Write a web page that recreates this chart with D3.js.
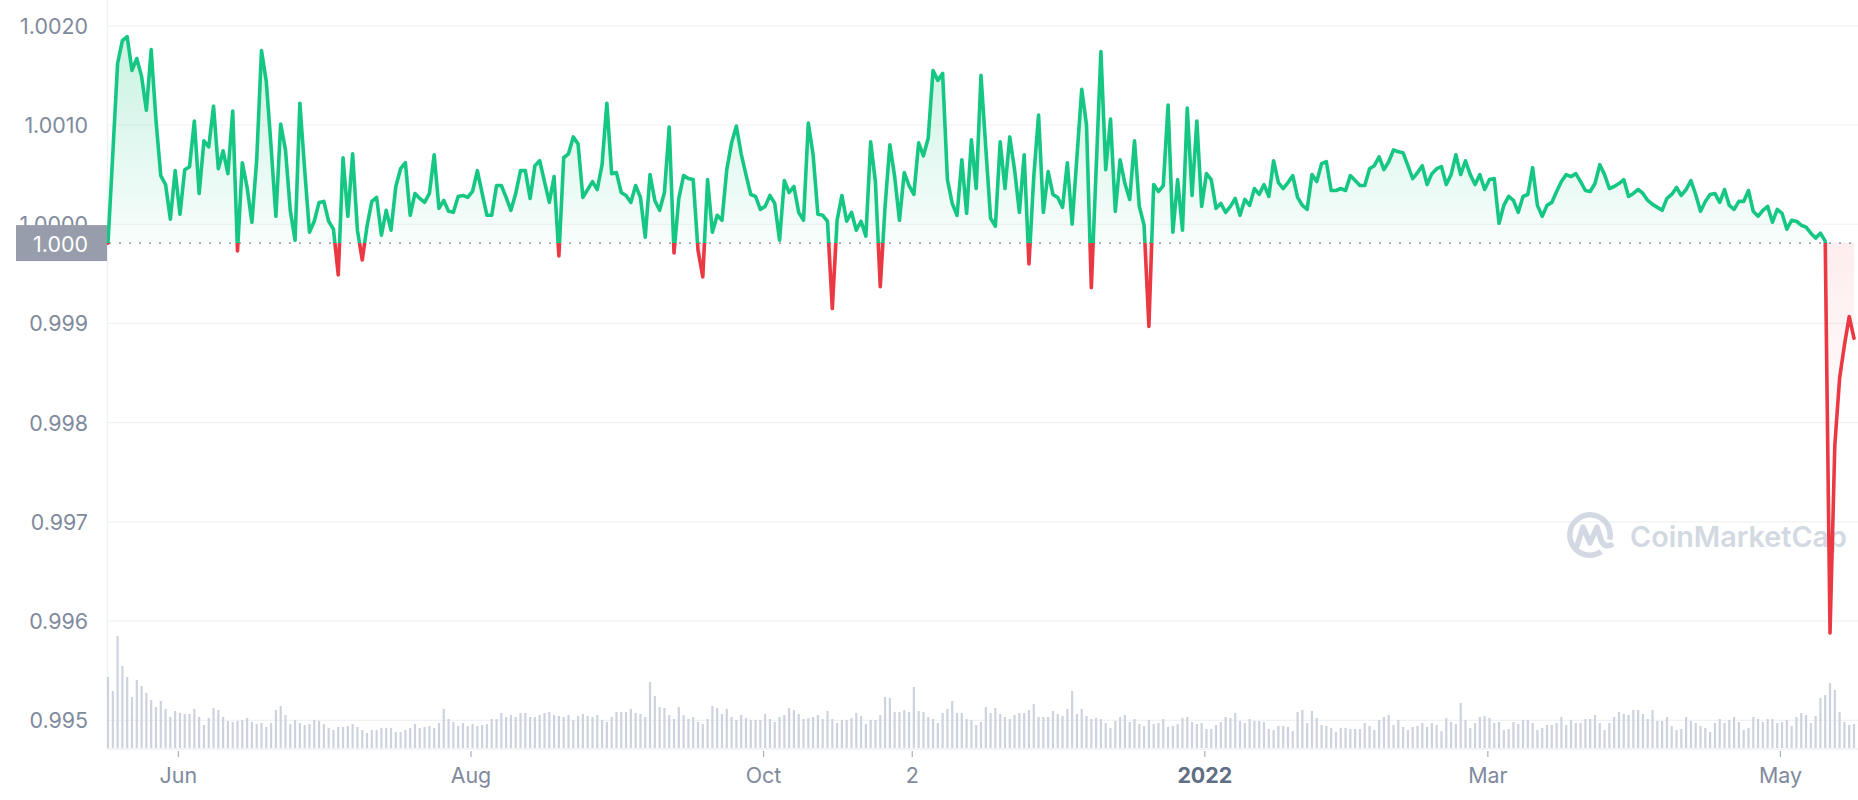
<!DOCTYPE html>
<html>
<head>
<meta charset="utf-8">
<script src="https://cdn.jsdelivr.net/npm/d3@7"></script>
<style>
  html, body { margin: 0; padding: 0; background: #ffffff; }
  svg { display: block; font-family: Inter, "Noto Sans", "DejaVu Sans", sans-serif; }
</style>
</head>
<body>
<svg id="chart" width="1858" height="800"></svg>
<script>
// ---------------- DATA ----------------
const startUTC = Date.UTC(2021, 4, 17, 8);   // first daily point
const dayMs = 864e5;

const prices = [
  0.99981, 1.00071, 1.00162, 1.00185, 1.00189, 1.00155, 1.00167, 1.00149, 1.00115, 1.00176,
  1.00105, 1.00049, 1.00040, 1.00005, 1.00054, 1.00010, 1.00055, 1.00058, 1.00104, 1.00031,
  1.00084, 1.00078, 1.00119, 1.00056, 1.00074, 1.00051, 1.00114, 0.99973, 1.00062, 1.00037,
  1.00002, 1.00065, 1.00175, 1.00144, 1.00078, 1.00008, 1.00101, 1.00075, 1.00014, 0.99984,
  1.00122, 1.00055, 0.99992, 1.00003, 1.00022, 1.00023, 1.00003, 0.99995, 0.99949, 1.00067,
  1.00008, 1.00071, 0.99994, 0.99964, 0.99998, 1.00023, 1.00027, 0.99989, 1.00014, 0.99994,
  1.00038,
  1.00056, 1.00062, 1.00009, 1.00031, 1.00026, 1.00022, 1.00031, 1.00070, 1.00016,
  1.00024, 1.00013, 1.00012, 1.00028, 1.00029, 1.00027, 1.00033, 1.00054, 1.00031, 1.00009,
  1.00009, 1.00039, 1.00039, 1.00027, 1.00014, 1.00031, 1.00054, 1.00054, 1.00026, 1.00059,
  1.00064, 1.00043, 1.00022, 1.00048, 0.99968, 1.00067, 1.00071, 1.00088, 1.00081, 1.00027,
  1.00035, 1.00043, 1.00035, 1.00060, 1.00122, 1.00051, 1.00052, 1.00032, 1.00029, 1.00022,
  1.00039, 1.00027, 0.99987, 1.00050, 1.00024, 1.00014, 1.00032, 1.00098, 0.99971, 1.00026,
  1.00049, 1.00046, 1.00045, 0.99974,
  0.99947, 1.00045, 0.99992, 1.00009, 1.00004, 1.00055,
  1.00082, 1.00099, 1.00071, 1.00050, 1.00030, 1.00028, 1.00015, 1.00018, 1.00029, 1.00021,
  0.99984, 1.00044, 1.00032, 1.00038, 1.00012, 1.00004, 1.00102, 1.00070, 1.00010, 1.00009,
  1.00003, 0.99915, 1.00004, 1.00029, 1.00003, 1.00012, 0.99994, 1.00003, 0.99988, 1.00083,
  1.00042, 0.99937, 1.00018, 1.00080, 1.00048, 1.00004, 1.00052, 1.00039, 1.00030, 1.00082,
  1.00069, 1.00087, 1.00155, 1.00145, 1.00152, 1.00045, 1.00021, 1.00009, 1.00065, 1.00011,
  1.00085, 1.00036, 1.00150, 1.00077, 1.00006, 0.99998, 1.00083,
  1.00036, 1.00088, 1.00055,
  1.00012, 1.00070, 0.99960, 1.00048, 1.00110, 1.00012, 1.00053, 1.00030, 1.00027, 1.00017,
  1.00062, 1.00000, 1.00068, 1.00136, 1.00100, 0.99936, 1.00055, 1.00174, 1.00055, 1.00106,
  1.00013, 1.00065, 1.00041, 1.00025, 1.00084, 1.00018, 0.99999, 0.99897, 1.00040, 1.00033,
  1.00039, 1.00120, 0.99992, 1.00045, 0.99994, 1.00117, 1.00029, 1.00104, 1.00018, 1.00051,
  1.00045, 1.00016, 1.00021, 1.00012, 1.00018, 1.00026, 1.00009, 1.00025, 1.00019, 1.00036,
  1.00030, 1.00040, 1.00028, 1.00064, 1.00042, 1.00036, 1.00042, 1.00049, 1.00027,
  1.00019,
  1.00015, 1.00050, 1.00043, 1.00061, 1.00063, 1.00034, 1.00034, 1.00036, 1.00034, 1.00049,
  1.00044, 1.00039, 1.00039, 1.00056, 1.00059, 1.00068, 1.00055, 1.00063, 1.00075, 1.00073,
  1.00072, 1.00059, 1.00046, 1.00052, 1.00059, 1.00040, 1.00051, 1.00056, 1.00058, 1.00040,
  1.00050, 1.00070, 1.00050, 1.00064, 1.00050, 1.00040, 1.00050, 1.00035, 1.00045, 1.00046,
  1.00001, 1.00019, 1.00028, 1.00024, 1.00012, 1.00028, 1.00030, 1.00057, 1.00019, 1.00008,
  1.00019, 1.00022, 1.00033, 1.00043, 1.00050, 1.00048, 1.00051, 1.00043, 1.00034, 1.00033,
  1.00041, 1.00060,
  1.00050, 1.00036, 1.00038, 1.00041, 1.00045, 1.00028, 1.00031, 1.00035,
  1.00031, 1.00024, 1.00020, 1.00017, 1.00014, 1.00026, 1.00030, 1.00037, 1.00029, 1.00035,
  1.00044, 1.00030, 1.00013, 1.00023, 1.00030, 1.00031, 1.00022, 1.00035, 1.00019, 1.00015,
  1.00023, 1.00023, 1.00034, 1.00013, 1.00008, 1.00014, 1.00018, 1.00002, 1.00015, 1.00011,
  0.99995, 1.00004, 1.00003, 0.99999, 0.99997, 0.99991, 0.99986, 0.99991, 0.99983, 0.99588,
  0.99777, 0.99845, 0.99878, 0.99907, 0.99885
];

// daily volume (billions USD, approximate)
const volumes = [
  71, 57, 112, 82, 71, 51, 68, 62, 55, 48,
  41, 47, 39, 31, 37, 35, 34, 34, 39, 31,
  23, 30, 40, 38, 31, 27, 26, 27, 28, 30,
  26, 24, 25, 21, 25, 38, 42, 33, 24, 28,
  25, 23, 24, 28, 27, 24, 20, 18, 21, 21,
  22, 24, 21, 18, 15, 18, 18, 20, 20, 20,
  16, 16, 18, 20, 24, 20, 21, 22, 20, 25,
  39, 29, 26, 22, 25, 22, 24, 22, 23, 24,
  29, 29, 35, 31, 33, 31, 35, 35, 31, 31,
  33, 35, 36, 33, 32, 31, 33, 28, 32, 34,
  32, 31, 33, 28, 26, 31, 36, 36, 36, 39,
  35, 34, 31, 66, 52, 41, 40, 33, 29, 41,
  33, 29, 31, 26, 24, 29, 42, 40, 34, 39,
  31, 28, 33, 30, 28, 28, 28, 34, 29, 26,
  31, 33, 40, 38, 34, 29, 30, 31, 33, 29,
  37, 29, 25, 28, 28, 30, 35, 32, 24, 28,
  28, 33, 51, 50, 36, 36, 38, 36, 61, 37,
  36, 31, 29, 25, 35, 39, 47, 35, 35, 29,
  28, 23,
  26, 41, 35, 40, 34, 31, 29, 33,
  35, 35, 38, 44, 31, 31, 31, 37, 34, 32,
  39, 57, 34, 39, 32, 29, 30, 29, 25, 20,
  27, 31, 33, 26, 29, 24, 22, 28, 24, 25,
  29, 21, 22, 24, 30, 31, 26, 24, 25, 19,
  19, 23, 26, 31, 30, 35, 27, 25, 29, 27,
  27, 26, 19, 18, 22, 22, 21, 17, 36, 38,
  25, 37, 30, 23, 22, 20, 16, 20, 20, 19,
  19, 19, 25, 22, 18, 28, 31, 33, 23, 28,
  21, 18, 21, 22, 25, 21, 25, 23, 17, 30,
  26, 24, 45, 28, 20, 25, 31, 32, 30, 25,
  26, 18, 19, 26, 24, 28, 28, 25, 18, 20,
  23, 23, 25, 31, 23, 28, 25, 25, 29, 29,
  33, 25, 18, 25, 31, 36, 34, 33, 38, 38,
  34, 29, 38, 27, 27, 31, 22, 18, 19, 31,
  27, 25, 22, 20, 16, 25, 29, 25, 28, 31,
  26, 18, 20, 31, 29, 26, 29, 29, 25, 26,
  28, 22, 31, 35, 33, 25, 32, 50, 53, 65,
  58, 36, 26, 23, 24
];

const openPrice = 0.99981;
const openLabel = "1.000";

const yTickValues = [1.0020, 1.0010, 1.0000, 0.999, 0.998, 0.997, 0.996, 0.995];
const yTickLabels = ["1.0020", "1.0010", "1.0000", "0.999", "0.998", "0.997", "0.996", "0.995"];

const xTickDates = [
  Date.UTC(2021, 5, 1), Date.UTC(2021, 7, 1), Date.UTC(2021, 9, 1), Date.UTC(2021, 10, 1),
  Date.UTC(2022, 0, 1), Date.UTC(2022, 2, 1), Date.UTC(2022, 4, 1)
];
const xTickLabels = ["Jun", "Aug", "Oct", "2", "2022", "Mar", "May"];
const boldTickLabels = ["2022"];

const watermarkText = "CoinMarketCap";

// ---------------- CHART ----------------
const GREEN = "#16c784", RED = "#ea3943";
const svg = d3.select("#chart");
const plotL = 107, plotR = 1858, axisY = 749;

const points = prices.map((p, i) => ({ date: new Date(startUTC + i * dayMs), price: p, vol: volumes[i] }));

const x = d3.scaleUtc()
  .domain([new Date(startUTC), new Date(startUTC + 364 * dayMs)])
  .range([108, 1854]);
const y = d3.scaleLinear().domain([0.995, 1.002]).range([720.3, 25.8]);
const yVol = d3.scaleLinear().domain([0, 128]).range([748, 620]);
const baseY = y(openPrice);

const defs = svg.append("defs");
const gG = defs.append("linearGradient").attr("id", "gGreen")
  .attr("gradientUnits", "userSpaceOnUse").attr("x1", 0).attr("x2", 0)
  .attr("y1", y(1.002)).attr("y2", baseY);
gG.append("stop").attr("offset", 0).attr("stop-color", GREEN).attr("stop-opacity", 0.24);
gG.append("stop").attr("offset", 1).attr("stop-color", GREEN).attr("stop-opacity", 0.03);
const gR = defs.append("linearGradient").attr("id", "gRed")
  .attr("gradientUnits", "userSpaceOnUse").attr("x1", 0).attr("x2", 0)
  .attr("y1", baseY).attr("y2", y(0.9975));
gR.append("stop").attr("offset", 0).attr("stop-color", RED).attr("stop-opacity", 0.09);
gR.append("stop").attr("offset", 1).attr("stop-color", RED).attr("stop-opacity", 0);

defs.append("clipPath").attr("id", "clipAbove").append("rect")
  .attr("x", plotL).attr("y", 0).attr("width", plotR - plotL).attr("height", baseY);
defs.append("clipPath").attr("id", "clipBelow").append("rect")
  .attr("x", plotL).attr("y", baseY).attr("width", plotR - plotL).attr("height", 800 - baseY);

// grid lines
svg.append("g").selectAll("line").data(yTickValues).join("line")
  .attr("x1", plotL).attr("x2", plotR)
  .attr("y1", d => y(d)).attr("y2", d => y(d))
  .attr("stroke", "#eff2f5").attr("stroke-width", 1.2);

// axis lines
svg.append("line").attr("x1", plotL + 0.5).attr("x2", plotL + 0.5).attr("y1", 0).attr("y2", axisY)
  .attr("stroke", "#eff2f5").attr("stroke-width", 1.5);
svg.append("line").attr("x1", plotL).attr("x2", plotR).attr("y1", axisY).attr("y2", axisY)
  .attr("stroke", "#eceff3").attr("stroke-width", 1.5);

// volume bars
svg.append("g").selectAll("rect").data(points).join("rect")
  .attr("x", d => x(d.date) - 1.1)
  .attr("width", 2.2)
  .attr("y", d => yVol(d.vol))
  .attr("height", d => yVol(0) - yVol(d.vol))
  .attr("fill", "#cdd3de");

// watermark
const wm = svg.append("g").attr("fill", "none").attr("stroke", "#d3d9e2");
wm.append("path")
  .attr("d", d3.arc()({ innerRadius: 17.5, outerRadius: 23, startAngle: 2.55, endAngle: 2.55 + 2 * Math.PI - 0.75 }))
  .attr("transform", "translate(1590,535)").attr("fill", "#d3d9e2").attr("stroke", "none");
wm.append("path")
  .attr("d", "M1577,546 L1583,527 L1590,543 L1597,527 L1601,540 Q1604,548 1611,545")
  .attr("stroke-width", 5.5).attr("stroke-linejoin", "round").attr("stroke-linecap", "round");
const wmText = svg.append("text").attr("x", 1630).attr("y", 547)
  .attr("fill", "#d3d9e2").attr("font-weight", 600).attr("font-size", 30)
  .text(watermarkText);
{
  const len = wmText.node().getComputedTextLength();
  wmText.attr("font-size", 30 * 217 / len);
}

// areas
const area = d3.area().x(d => x(d.date)).y0(baseY).y1(d => y(d.price));
svg.append("path").datum(points).attr("d", area).attr("fill", "url(#gGreen)").attr("clip-path", "url(#clipAbove)");
svg.append("path").datum(points).attr("d", area).attr("fill", "url(#gRed)").attr("clip-path", "url(#clipBelow)");

// dotted open line
svg.append("line").attr("x1", plotL + 2).attr("x2", plotR).attr("y1", baseY).attr("y2", baseY)
  .attr("stroke", "#9ea4b0").attr("stroke-width", 1.6).attr("stroke-dasharray", "2,8");

// price line
const line = d3.line().x(d => x(d.date)).y(d => y(d.price));
svg.append("path").datum(points).attr("d", line).attr("fill", "none").attr("stroke", GREEN)
  .attr("stroke-width", 3.6).attr("stroke-linejoin", "round").attr("stroke-linecap", "round")
  .attr("clip-path", "url(#clipAbove)");
svg.append("path").datum(points).attr("d", line).attr("fill", "none").attr("stroke", RED)
  .attr("stroke-width", 3.6).attr("stroke-linejoin", "round").attr("stroke-linecap", "round")
  .attr("clip-path", "url(#clipBelow)");

// y labels
const yLab = svg.append("g").selectAll("text").data(yTickValues).join("text")
  .attr("x", 88).attr("y", d => y(d)).attr("text-anchor", "end").attr("dominant-baseline", "central")
  .attr("fill", "#808a9d").attr("font-size", 20)
  .text((d, i) => yTickLabels[i]);
// calibrate font size so "1.0020" spans ~68px
let fs = 20;
{
  const w = yLab.nodes()[0].getComputedTextLength();
  fs = 20 * 68 / w;
  yLab.attr("font-size", fs);
}

// open price badge
svg.append("rect").attr("x", 16).attr("y", baseY - 18).attr("width", plotL - 16).attr("height", 36)
  .attr("fill", "#979dab");
svg.append("text").attr("x", 88).attr("y", baseY + 1).attr("text-anchor", "end")
  .attr("dominant-baseline", "central").attr("fill", "#ffffff").attr("font-size", fs)
  .text(openLabel);

// x ticks and labels
const xg = svg.append("g");
xg.selectAll("line").data(xTickDates).join("line")
  .attr("x1", d => x(new Date(d))).attr("x2", d => x(new Date(d)))
  .attr("y1", axisY + 2).attr("y2", axisY + 8)
  .attr("stroke", "#a6b0c3").attr("stroke-width", 1.2);
xg.selectAll("text").data(xTickDates).join("text")
  .attr("x", d => x(new Date(d))).attr("y", 775)
  .attr("text-anchor", "middle").attr("dominant-baseline", "central")
  .attr("font-size", fs)
  .attr("font-weight", (d, i) => boldTickLabels.includes(xTickLabels[i]) ? 700 : 400)
  .attr("fill", (d, i) => boldTickLabels.includes(xTickLabels[i]) ? "#616e85" : "#808a9d")
  .text((d, i) => xTickLabels[i]);
</script>
</body>
</html>
